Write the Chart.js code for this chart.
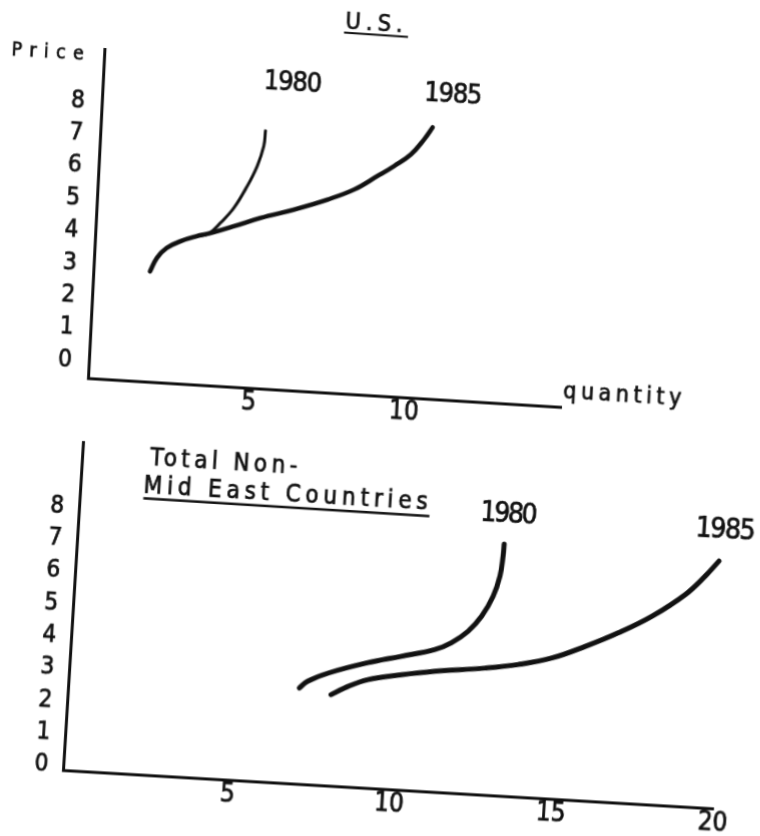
<!DOCTYPE html>
<html>
<head>
<meta charset="utf-8">
<title>Price vs quantity, 1980 and 1985</title>
<script src="https://cdn.jsdelivr.net/npm/chart.js@4/dist/chart.umd.min.js"></script>
<style>
  html, body { margin: 0; padding: 0; background: #fff; }
  body { width: 760px; height: 836px; overflow: hidden; position: relative; }
  /* the scanned page is slightly skewed: each panel keeps its own tilt */
  .panel { position: absolute; left: 0; top: 0; width: 760px; height: 836px; }
  .panel canvas { position: absolute; }
  #usPanel { transform-origin: 88px 378px; transform: matrix(1, 0.061, -0.05, 1, 0, 0); }
  #nmePanel { transform-origin: 63px 770px; transform: matrix(1, 0.059, -0.061, 1, 0, 0); }
  #usChart { left: -30px; top: -30px; }
  #nmeChart { left: -30px; top: 400px; }
</style>
</head>
<body>
<div class="panel" id="usPanel"><canvas id="usChart" width="820" height="450"></canvas></div>
<div class="panel" id="nmePanel"><canvas id="nmeChart" width="820" height="436"></canvas></div>

<script>
/* =========================================================
   DATA (quantity on x, price on y)
========================================================= */

const priceTicks = [0, 1, 2, 3, 4, 5, 6, 7, 8];
const usQtyTicks = [5, 10];
const nmeQtyTicks = [5, 10, 15, 20];

// U.S.
const usQty1980 = [1.63, 1.83, 2.13, 2.55, 3.08, 3.45, 3.81, 4.22, 4.61, 4.90, 5.08, 5.11];
const usPrice1980 = [2.89, 3.32, 3.64, 3.87, 4.06, 4.16, 4.51, 5.00, 5.69, 6.33, 6.96, 7.43];
const usQty1985 = [1.63, 1.83, 2.13, 2.55, 3.08, 3.45, 4.24, 5.09, 6.15, 7.21, 8.05, 8.78, 9.30, 9.82, 10.22, 10.47];
const usPrice1985 = [2.89, 3.32, 3.64, 3.87, 4.06, 4.16, 4.43, 4.74, 5.06, 5.43, 5.79, 6.25, 6.59, 6.98, 7.47, 7.85];

// Total Non-Mid East Countries
const nmeQty1980 = [7.02, 7.26, 7.91, 9.08, 10.10, 11.12, 11.62, 12.11, 12.50, 12.82, 12.99, 13.05, 13.06];
const nmePrice1980 = [2.84, 3.06, 3.36, 3.74, 4.00, 4.27, 4.51, 4.89, 5.38, 6.02, 6.65, 7.28, 7.64];
const nmeQty1985 = [8.01, 8.41, 9.11, 10.13, 11.16, 12.70, 13.72, 14.74, 15.75, 16.75, 17.75, 18.74, 19.32, 19.71];
const nmePrice1985 = [2.69, 2.92, 3.22, 3.43, 3.60, 3.79, 3.96, 4.22, 4.64, 5.12, 5.69, 6.42, 7.03, 7.51];

/* =========================================================
   HELPERS
========================================================= */

const INK = "#111111";
const FONT = "'DejaVu Sans Condensed', 'DejaVu Sans', sans-serif";

Chart.defaults.font.family = FONT;
Chart.defaults.color = INK;

function toPoints(qty, price) {
  return qty.map((q, i) => ({ x: q, y: price[i] }));
}

// draw text stretched (letter spacing) to a given width, slightly inked
function drawFitted(ctx, text, left, baseline, size, width) {
  ctx.font = `${size}px ${FONT}`;
  ctx.letterSpacing = "0px";
  const w = ctx.measureText(text).width;
  const gap = text.length > 1 ? (width - w) / (text.length - 1) : 0;
  ctx.letterSpacing = `${gap}px`;
  ctx.textAlign = "left";
  ctx.textBaseline = "alphabetic";
  ctx.lineWidth = 0.7;
  ctx.fillText(text, left, baseline);
  ctx.strokeText(text, left, baseline);
  ctx.letterSpacing = "0px";
}

const notesPlugin = {
  id: "notes",
  afterDatasetsDraw(chart, args, opts) {
    const ctx = chart.ctx;
    ctx.save();
    ctx.fillStyle = INK;
    ctx.strokeStyle = INK;

    (opts.texts || []).forEach(t => {
      const left = t.center !== undefined ? t.center - t.width / 2 : t.left;
      drawFitted(ctx, t.text, left, t.baseline, t.size, t.width);
    });

    (opts.rules || []).forEach(r => {
      ctx.lineWidth = r.width;
      ctx.beginPath();
      ctx.moveTo(r.x1, r.y1);
      ctx.lineTo(r.x2, r.y2);
      ctx.stroke();
    });

    // year labels sit just above the end of each curve
    (opts.years || []).forEach((lab, i) => {
      const pts = chart.getDatasetMeta(i).data;
      const tip = pts[pts.length - 1];
      const text = chart.data.datasets[i].label;
      drawFitted(ctx, text, tip.x + lab.dx - lab.width / 2, tip.y + lab.dy, lab.size, lab.width);
    });

    ctx.restore();
  }
};

function makeScale(range, ticks, fitSize, tickFont, tickPad, isX) {
  return {
    type: "linear",
    min: range[0],
    max: range[1],
    afterBuildTicks: s => { s.ticks = ticks.map(v => ({ value: v })); },
    afterFit: s => {
      if (isX) s.height = fitSize;
      else s.width = fitSize;
    },
    grid: { display: false, drawTicks: false },
    border: { display: true, color: INK, width: 3 },
    ticks: {
      padding: tickPad,
      color: INK,
      font: { size: tickFont },
      autoSkip: false,
      textStrokeColor: INK,
      textStrokeWidth: 0.7
    }
  };
}

function makeChart(id, datasets, xScale, yScale, padding, notes) {
  return new Chart(document.getElementById(id), {
    type: "scatter",
    data: { datasets: datasets },
    options: {
      responsive: false,
      animation: false,
      layout: { padding: padding },
      scales: { x: xScale, y: yScale },
      plugins: {
        legend: { display: false },
        tooltip: { enabled: false },
        notes: notes
      }
    },
    plugins: [notesPlugin]
  });
}

function curve(label, qty, price, width) {
  return {
    label: label,
    data: toPoints(qty, price),
    showLine: true,
    tension: 0.4,
    borderColor: INK,
    borderWidth: width,
    borderCapStyle: "round",
    borderJoinStyle: "round",
    pointRadius: 0,
    clip: false
  };
}

/* =========================================================
   U.S. PANEL
========================================================= */

makeChart(
  "usChart",
  [
    curve("1980", usQty1980, usPrice1980, 3),
    curve("1985", usQty1985, usPrice1985, 4.5)
  ],
  makeScale([-0.19, 15.04], usQtyTicks, 36, 26, 0, true),
  makeScale([-0.51, 9.645], priceTicks, 118, 24, 17, false),
  { left: 0, top: 79, right: 229, bottom: 6 },
  {
    texts: [
      { text: "U.S.", center: 385.6, baseline: 44, size: 23, width: 57 },
      { text: "Price", left: 25.6, baseline: 91, size: 19, width: 72 },
      { text: "quantity", left: 592.5, baseline: 399, size: 23, width: 118 }
    ],
    rules: [
      { x1: 356, y1: 48, x2: 420, y2: 48.5, width: 2 }
    ],
    years: [
      { dx: 25, dy: -42, size: 27, width: 58 },
      { dx: 19, dy: -26.5, size: 27, width: 58 }
    ]
  }
);

/* =========================================================
   TOTAL NON-MID EAST PANEL
========================================================= */

makeChart(
  "nmeChart",
  [
    curve("1980", nmeQty1980, nmePrice1980, 5),
    curve("1985", nmeQty1985, nmePrice1985, 5)
  ],
  makeScale([-0.105, 19.99], nmeQtyTicks, 36, 26, 0, true),
  makeScale([-0.116, 10.02], priceTicks, 93, 24, 15, false),
  { left: 0, top: 42, right: 77, bottom: 30 },
  {
    texts: [
      { text: "Total Non-", left: 161, baseline: 60.5, size: 24, width: 147 },
      { text: "Mid East Countries", left: 156, baseline: 89, size: 24, width: 284 }
    ],
    rules: [
      { x1: 156.5, y1: 94.5, x2: 442.6, y2: 95.5, width: 2.5 }
    ],
    years: [
      { dx: 3, dy: -22.5, size: 28, width: 57 },
      { dx: 4.7, dy: -23.5, size: 28, width: 60 }
    ]
  }
);
</script>
</body>
</html>
